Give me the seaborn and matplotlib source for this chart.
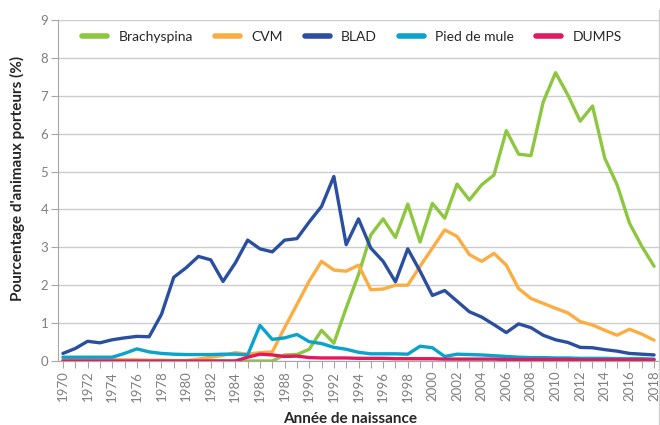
import pandas as pd
import matplotlib.pyplot as plt
import seaborn as sns
from matplotlib.lines import Line2D

# Données (% d'animaux porteurs par année de naissance)
annees = list(range(1970, 2019))

brachyspina = [0, 0, 0, 0, 0, 0, 0, 0, 0, 0,
               0, 0, 0, 0, 0, 0, 0, 0, 0.16, 0.17,
               0.31, 0.81, 0.47, 1.4, 2.28, 3.33, 3.75, 3.26, 4.14, 3.14,
               4.16, 3.77, 4.67, 4.25, 4.65, 4.91, 6.08, 5.46, 5.42, 6.84,
               7.61, 7.02, 6.33, 6.73, 5.35, 4.65, 3.64, 3.03, 2.5]
cvm = [0.05, 0.05, 0.04, 0.04, 0.04, 0.03, 0.03, 0.02, 0.02, 0.01,
       0.01, 0.05, 0.1, 0.15, 0.22, 0.18, 0.22, 0.24, 0.88, 1.49,
       2.11, 2.63, 2.4, 2.37, 2.53, 1.88, 1.9, 2.0, 2.0, 2.5,
       2.98, 3.46, 3.29, 2.81, 2.63, 2.84, 2.53, 1.91, 1.65, 1.52,
       1.39, 1.27, 1.04, 0.95, 0.81, 0.68, 0.84, 0.71, 0.55]
blad = [0.2, 0.33, 0.52, 0.48, 0.56, 0.61, 0.65, 0.64, 1.23, 2.21,
        2.46, 2.76, 2.67, 2.1, 2.59, 3.19, 2.96, 2.88, 3.19, 3.23,
        3.67, 4.08, 4.87, 3.07, 3.75, 2.98, 2.63, 2.09, 2.96, 2.37,
        1.73, 1.86, 1.58, 1.3, 1.16, 0.96, 0.75, 0.98, 0.88, 0.68,
        0.56, 0.49, 0.36, 0.35, 0.3, 0.26, 0.2, 0.18, 0.16]
pied_de_mule = [0.1, 0.1, 0.1, 0.1, 0.1, 0.2, 0.32, 0.24, 0.2, 0.18,
                0.17, 0.17, 0.17, 0.18, 0.18, 0.16, 0.94, 0.57, 0.61, 0.7,
                0.51, 0.46, 0.36, 0.31, 0.23, 0.19, 0.19, 0.19, 0.18, 0.39,
                0.35, 0.12, 0.18, 0.17, 0.16, 0.14, 0.12, 0.1, 0.09, 0.09,
                0.08, 0.08, 0.07, 0.07, 0.07, 0.06, 0.06, 0.06, 0.05]
dumps = [0, 0, 0, 0, 0, 0, 0, 0, 0, 0,
         0, 0, 0, 0, 0, 0.1, 0.18, 0.16, 0.12, 0.13,
         0.09, 0.08, 0.08, 0.08, 0.07, 0.07, 0.07, 0.06, 0.06, 0.06,
         0.06, 0.05, 0.05, 0.05, 0.05, 0.05, 0.04, 0.04, 0.04, 0.04,
         0.04, 0.04, 0.03, 0.03, 0.03, 0.03, 0.03, 0.03, 0.03]

maladies = ['Brachyspina', 'CVM', 'BLAD', 'Pied de mule', 'DUMPS']
couleurs = ['#8dc63f', '#fbad42', '#2a4fa0', '#0aa3cc', '#e0195f']

data = pd.DataFrame({'annee': annees, 'Brachyspina': brachyspina, 'CVM': cvm,
                     'BLAD': blad, 'Pied de mule': pied_de_mule, 'DUMPS': dumps})
data = data.melt(id_vars='annee', var_name='maladie', value_name='pct')

sns.set_style("white")
plt.rcParams['font.family'] = ['Lato', 'DejaVu Sans']

fig = plt.figure(figsize=(6.6, 4.25), dpi=100)
ax = fig.add_axes([58 / 660, 1 - 361 / 425, 601 / 660, 341 / 425])

sns.lineplot(data=data, x='annee', y='pct', hue='maladie', hue_order=maladies,
             palette=couleurs, linewidth=2.4, ax=ax)

gris = '#a6a6a6'
ax.set_xlim(1969.6, 2018.4)
ax.set_ylim(0, 9)
ax.set_yticks(range(0, 10))
ax.set_xticks(annees, minor=True)
ax.set_xticks(annees[::2])
ax.set_xticklabels([str(a) for a in annees[::2]], rotation=90)
ax.tick_params(axis='both', which='both', direction='out', length=5, width=0.8,
               color=gris, labelcolor='#7f7f7f', labelsize=9.5, pad=2)
ax.tick_params(axis='y', left=True)
ax.tick_params(axis='x', which='both', bottom=True)
ax.yaxis.grid(True, color='#cccccc', linewidth=1)
ax.set_axisbelow(True)
for s in ['top', 'right']:
    ax.spines[s].set_visible(False)
for s in ['left', 'bottom']:
    ax.spines[s].set_color(gris)
    ax.spines[s].set_linewidth(0.8)

ax.set_xlabel('Année de naissance', fontsize=11, fontweight='bold', va='center')
ax.xaxis.set_label_coords(0.486, -0.17)
ax.set_ylabel("Pourcentage d'animaux porteurs (%)", fontsize=11, fontweight='bold', va='center')
ax.yaxis.set_label_coords(-0.067, 0.534)

leg = ax.legend(loc='center', bbox_to_anchor=(0.489, 0.95), ncol=5, frameon=False,
                fontsize=10, handlelength=1.8, handletextpad=0.8, columnspacing=1.6)
for h in leg.get_lines():
    h.set_linewidth(4)
    h.set_solid_capstyle('round')

# bordure droite du cadre
fig.add_artist(Line2D([659.3 / 660, 659.3 / 660], [0, 1 - 10 / 425],
                      transform=fig.transFigure, color='#d0d0d0', linewidth=1))

fig.savefig('out.png', dpi=100)
